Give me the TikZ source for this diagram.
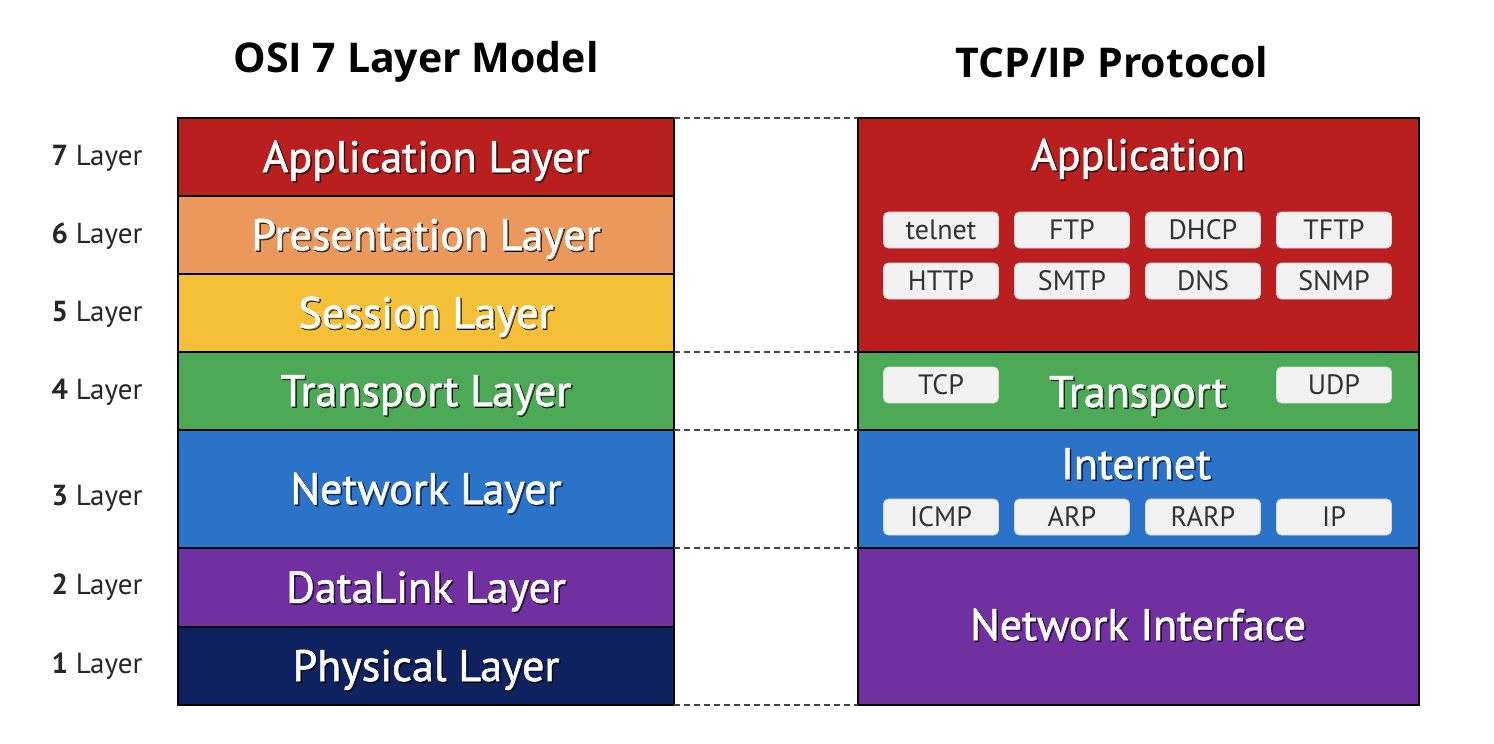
\documentclass[tikz,border=0pt]{standalone}
\usepackage{fontspec}
\setmainfont{Open Sans}
\newfontfamily\nfont{PT Sans}
\newfontfamily\mfont{PT Sans}[FakeBold=1.3]
\usetikzlibrary{positioning}
\definecolor{cApp}{RGB}{184,31,30}
\definecolor{cPre}{RGB}{234,152,92}
\definecolor{cSes}{RGB}{244,192,56}
\definecolor{cTra}{RGB}{76,170,86}
\definecolor{cNet}{RGB}{42,115,200}
\definecolor{cDat}{RGB}{112,48,160}
\definecolor{cPhy}{RGB}{14,34,96}
\definecolor{cChip}{RGB}{242,242,242}
\definecolor{cChipTxt}{RGB}{50,50,50}
\definecolor{cDash}{RGB}{70,70,70}
\newcommand\shd[1]{\leavevmode\rlap{\kern1.5pt\raisebox{-1.5pt}{\textcolor{black}{\pgfsetfillopacity{0.35}#1\pgfsetfillopacity{1}}}}#1}
\tikzset{
  band/.style={draw=black, line width=2.5pt, inner sep=0pt, outer sep=0pt,
    minimum width=496pt, text=white, text height=36pt, text depth=6pt,
    font=\mfont\fontsize{44}{48}\selectfont},
  tband/.style={draw=black, line width=2.5pt, inner sep=0pt, outer sep=0pt,
    minimum width=561pt, text=white},
  chip/.style={draw=white!85!black, line width=0.8pt, fill=cChip, rounded corners=5pt,
    minimum width=115pt, minimum height=36pt, inner sep=0pt, text=cChipTxt,
    font=\nfont\fontsize{28}{30}\selectfont},
  lbl/.style={anchor=center, font=\nfont\fontsize{29}{31}\selectfont, text=black!85},
  ttl/.style={font=\bfseries\fontsize{41}{46}\selectfont, text=black},
  bigtxt/.style={text=white, text height=36pt, text depth=6pt,
    font=\mfont\fontsize{44}{48}\selectfont},
  link/.style={draw=cDash, line width=1.6pt, dash pattern=on 6pt off 4pt},
}
\begin{document}
\begin{tikzpicture}[x=1pt,y=-1pt]
\useasboundingbox (0,0) rectangle (1494,744);
% titles
\node[ttl] (t1) at (416,62) {OSI 7 Layer Model};
\node[ttl] (t2) at (1112,62) {TCP/IP Protocol};
% OSI bands
\node[band, fill=cApp, minimum height=78pt] (o7) at (426,157) {\shd{Application Layer}};
\node[band, fill=cPre, minimum height=78pt] (o6) at (426,235) {\shd{Presentation Layer}};
\node[band, fill=cSes, minimum height=78pt] (o5) at (426,313) {\shd{Session Layer}};
\node[band, fill=cTra, minimum height=78pt] (o4) at (426,391) {\shd{Transport Layer}};
\node[band, fill=cNet, minimum height=118pt] (o3) at (426,489) {\shd{Network Layer}};
\node[band, fill=cDat, minimum height=79pt] (o2) at (426,587.5) {\shd{DataLink Layer}};
\node[band, fill=cPhy, minimum height=78pt] (o1) at (426,666) {\shd{Physical Layer}};
% layer labels
\node[lbl] (l7) at (97,158) {\textbf{7} Layer};
\node[lbl] (l6) at (97,236) {\textbf{6} Layer};
\node[lbl] (l5) at (97,314) {\textbf{5} Layer};
\node[lbl] (l4) at (97,392) {\textbf{4} Layer};
\node[lbl] (l3) at (97,498) {\textbf{3} Layer};
\node[lbl] (l2) at (97,587) {\textbf{2} Layer};
\node[lbl] (l1) at (97,666) {\textbf{1} Layer};
% TCP/IP bands
\node[tband, fill=cApp, minimum height=234pt] (tapp) at (1138.5,235) {};
\node[tband, fill=cTra, minimum height=78pt] (ttra) at (1138.5,391) {};
\node[tband, fill=cNet, minimum height=118pt] (tint) at (1138.5,489) {};
\node[tband, fill=cDat, minimum height=157pt] (tnif) at (1138.5,626.5) {};
% TCP/IP texts
\node[bigtxt] (appt) at (1138,155) {\shd{Application}};
\node[bigtxt] (trat) at (1138,392) {\shd{Transport}};
\node[bigtxt] (intt) at (1136,464) {\shd{Internet}};
\node[bigtxt] (nift) at (1138,625) {\shd{Network Interface}};
% chips
\node[chip] (c1) at (941,230) {telnet};
\node[chip] (c2) at (1072,230) {FTP};
\node[chip] (c3) at (1203,230) {DHCP};
\node[chip] (c4) at (1334,230) {TFTP};
\node[chip] (c5) at (941,281) {HTTP};
\node[chip] (c6) at (1072,281) {SMTP};
\node[chip] (c7) at (1203,281) {DNS};
\node[chip] (c8) at (1334,281) {SNMP};
\node[chip] (tcp) at (941,385) {TCP};
\node[chip] (udp) at (1334,385) {UDP};
\node[chip] (icmp) at (941,517) {ICMP};
\node[chip] (arp) at (1072,517) {ARP};
\node[chip] (rarp) at (1203,517) {RARP};
\node[chip] (ip) at (1334,517) {IP};
% dashed links
\draw[link] (o7.north east) -- (tapp.north west);
\draw[link] (o4.north east) -- (ttra.north west);
\draw[link] (o3.north east) -- (tint.north west);
\draw[link] (o2.north east) -- (tnif.north west);
\draw[link] (o1.south east) -- (tnif.south west);
\end{tikzpicture}
\end{document}
